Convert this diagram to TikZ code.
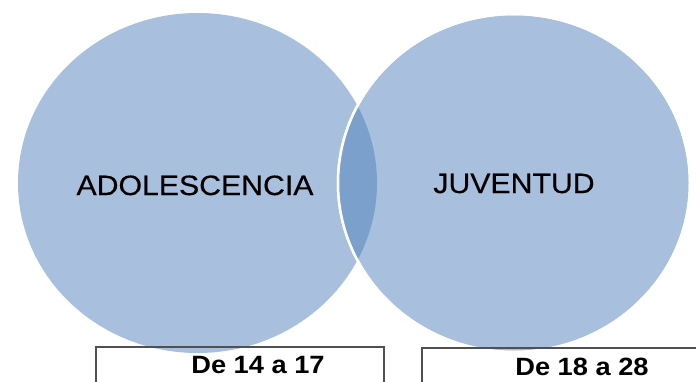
\documentclass[tikz,border=0pt]{standalone}
\usepackage{fontspec}
\setmainfont{Liberation Sans}
\newfontfamily\labelfont[FakeBold=0.4]{Liberation Sans}
\definecolor{circfill}{HTML}{A8C0DE}
\definecolor{lensfill}{HTML}{7BA0CC}
\definecolor{boxline}{HTML}{505050}
\tikzset{
  label big/.style={font=\labelfont\fontsize{28}{30}\selectfont, text=black, inner sep=0pt, anchor=base, xscale=1.08},
  label age/.style={font=\fontsize{25}{27}\selectfont\bfseries, text=black, inner sep=0pt, anchor=base, xscale=1.09},
  agebox/.style={draw=boxline, line width=1.5pt},
}
\begin{document}
\begin{tikzpicture}[x=1pt,y=-1pt]
\useasboundingbox (0,0) rectangle (696,381);
% circles
\fill[circfill] (197.5,183) ellipse [x radius=179.5, y radius=170];
\fill[circfill, draw=white, line width=2.5pt] (514,183) ellipse [x radius=176, y radius=169];
\begin{scope}
  \clip (197.5,183) ellipse [x radius=179.5, y radius=170];
  \fill[lensfill] (514,183) ellipse [x radius=176, y radius=169];
\end{scope}
\draw[white, line width=2.5pt] (514,183) ellipse [x radius=176, y radius=169];
% labels
\node[label big] (ado) at (195,195) {ADOLESCENCIA};
\node[label big] (juv) at (514,193) {JUVENTUD};
% boxes
\draw[agebox] (96,395) -- (96,347) -- (384,347) -- (384,395);
\draw[agebox] (422,395) -- (422,348) -- (700,348);
\node[label age] (a1) at (258,373) {De 14 a 17};
\node[label age] (a2) at (582,375) {De 18 a 28};
\end{tikzpicture}
\end{document}
